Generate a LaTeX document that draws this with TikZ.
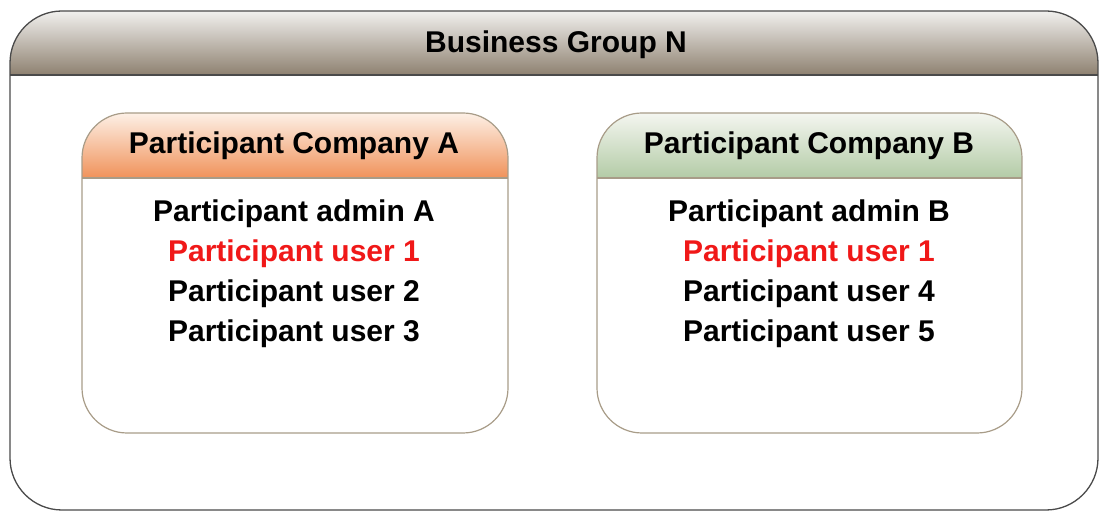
\documentclass[tikz,border=0pt]{standalone}
\usepackage{fontspec}
\setmainfont{Liberation Sans}
\usepackage{tikz}
\usetikzlibrary{positioning}
\definecolor{bgtop}{HTML}{F1F0EE}
\definecolor{bgbot}{HTML}{8E8170}
\definecolor{bgline}{HTML}{4A4A4A}
\definecolor{boxline}{HTML}{A89C88}
\definecolor{orgtop}{HTML}{FDF0E6}
\definecolor{orgbot}{HTML}{F0925A}
\definecolor{grntop}{HTML}{F4F6F0}
\definecolor{grnbot}{HTML}{B3CBA6}
\definecolor{userred}{HTML}{F01818}

\begin{document}
\begin{tikzpicture}[x=1pt,y=1pt,node distance=40pt,
  every node/.style={inner sep=0pt,font=\bfseries\fontsize{30}{32}\selectfont}]
\useasboundingbox (0,0) rectangle (1101,511);
% outer group
\begin{scope}
\clip[rounded corners=52pt] (10,1) rectangle (1098,500);
\shade[top color=bgtop,bottom color=bgbot] (10,436) rectangle (1098,500);
\end{scope}
\draw[bgline,line width=1.3pt,rounded corners=52pt] (10,1) rectangle (1098,500);
\draw[bgline,line width=2pt] (10,436) -- (1098,436);
% company A
\begin{scope}
\clip[rounded corners=45pt] (82,78) rectangle (508,398);
\shade[top color=orgtop,bottom color=orgbot] (82,333) rectangle (508,398);
\end{scope}
\draw[boxline,line width=1.2pt,rounded corners=45pt] (82,78) rectangle (508,398);
\draw[boxline,line width=1.5pt] (82,333) -- (508,333);
% company B
\begin{scope}
\clip[rounded corners=45pt] (597,78) rectangle (1022,398);
\shade[top color=grntop,bottom color=grnbot] (597,333) rectangle (1022,398);
\end{scope}
\draw[boxline,line width=1.2pt,rounded corners=45pt] (597,78) rectangle (1022,398);
\draw[boxline,line width=1.5pt] (597,333) -- (1022,333);
% labels
\node (bgN) at (556,466) {Business Group N};
\node (pcA) at (294,365) {Participant Company A};
\node (pcB) at (809,365) {Participant Company B};
\node (admA) at (294,297) {Participant admin A};
\node[below of=admA,text=userred] (u1A) {Participant user 1};
\node[below of=u1A] (u2) {Participant user 2};
\node[below of=u2] (u3) {Participant user 3};
\node (admB) at (809,297) {Participant admin B};
\node[below of=admB,text=userred] (u1B) {Participant user 1};
\node[below of=u1B] (u4) {Participant user 4};
\node[below of=u4] (u5) {Participant user 5};
\end{tikzpicture}
\end{document}
